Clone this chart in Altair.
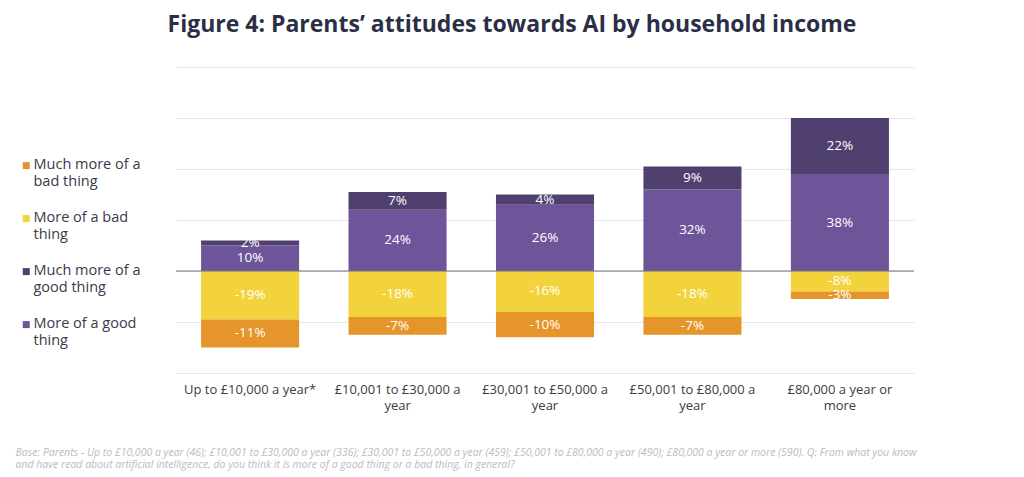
import altair as alt
import pandas as pd

incomes = [
    "Up to £10,000 a year*",
    "£10,001 to £30,000 a year",
    "£30,001 to £50,000 a year",
    "£50,001 to £80,000 a year",
    "£80,000 a year or more",
]
much_good = [2, 7, 4, 9, 22]
good = [10, 24, 26, 32, 38]
bad = [-19, -18, -16, -18, -8]
much_bad = [-11, -7, -10, -7, -3]

series = [
    "More of a good thing",
    "Much more of a good thing",
    "More of a bad thing",
    "Much more of a bad thing",
]
legend_order = [
    "Much more of a bad thing",
    "More of a bad thing",
    "Much more of a good thing",
    "More of a good thing",
]
colors = {
    "Much more of a bad thing": "#E5952A",
    "More of a bad thing": "#F2D33B",
    "Much more of a good thing": "#4F4070",
    "More of a good thing": "#6E5499",
}

rows = []
for i, inc in enumerate(incomes):
    for k, (name, vals) in enumerate(zip(series, [good, much_good, bad, much_bad])):
        rows.append({"income": inc, "series": name, "value": vals[i], "rank": k})
df = pd.DataFrame(rows)

font = "Open Sans"
footnote = [
    "Base: Parents - Up to £10,000 a year (46); £10,001 to £30,000 a year (336); £30,001 to £50,000 a year (459); £50,001 to £80,000 a year (490); £80,000 a year or more (590). Q:  From what you know",
    "and have read about artificial intelligence, do you think it is more of a good thing or a bad thing, in general?",
]

x_label_expr = (
    "datum.label == 'Up to £10,000 a year*' ? datum.label : "
    "datum.label == '£80,000 a year or more' ? ['£80,000 a year or', 'more'] : "
    "[replace(datum.label, ' year', ''), 'year']"
)
legend_label_expr = (
    "datum.label == 'Much more of a bad thing' ? ['Much more of a', 'bad thing'] : "
    "datum.label == 'More of a bad thing' ? ['More of a bad', 'thing'] : "
    "datum.label == 'Much more of a good thing' ? ['Much more of a', 'good thing'] : "
    "['More of a good', 'thing']"
)
# square swatch drawn a little below its anchor so it sits beside the first label line
swatch = "M-1,1.1 L1,1.1 L1,3.1 L-1,3.1 Z"

x_axis = alt.Axis(
    title=footnote,
    titleFont=font,
    titleFontSize=10.5,
    titleFontStyle="italic",
    titleFontWeight="normal",
    titleColor="#bbbbbb",
    titleAnchor="start",
    titleAlign="left",
    titleBaseline="top",
    titleX=-161,
    titleY=74,
    titleLineHeight=12,
    labelAngle=0,
    labelExpr=x_label_expr,
    labelFont=font,
    labelFontSize=13,
    labelColor="#3c3c3c",
    labelPadding=10,
    labelLineHeight=16,
    domain=False,
    ticks=False,
    grid=False,
)
y_axis = alt.Axis(
    values=[-40, -20, 0, 20, 40, 60, 80],
    labels=False,
    ticks=False,
    domain=False,
    title=None,
    grid=True,
    gridColor="#e2e8f0",
    gridWidth=1,
)

x_scale = alt.Scale(paddingInner=0.335, paddingOuter=0.17)
y_scale = alt.Scale(domain=[-40, 80], nice=False)

base = alt.Chart(df).transform_stack(
    stack="value",
    groupby=["income"],
    sort=[alt.SortField("rank", order="ascending")],
    as_=["y0", "y1"],
    offset="zero",
).transform_calculate(mid="(datum.y0 + datum.y1) / 2", lbl="datum.value + '%'")

bars = base.mark_bar().encode(
    x=alt.X("income:N", sort=incomes, scale=x_scale, axis=x_axis),
    y=alt.Y("y0:Q", scale=y_scale, axis=y_axis),
    y2="y1:Q",
    color=alt.Color(
        "series:N",
        scale=alt.Scale(domain=legend_order, range=[colors[s] for s in legend_order]),
        legend=alt.Legend(
            title=None,
            orient="none",
            legendX=-157,
            legendY=84,
            direction="vertical",
            symbolType=swatch,
            symbolSize=49,
            symbolStrokeWidth=0,
            labelExpr=legend_label_expr,
            labelFont=font,
            labelFontSize=14.5,
            labelColor="#3a3a4a",
            labelBaseline="top",
            labelOffset=0,
            rowPadding=15,
            labelLimit=200,
        ),
    ),
)

labels = base.mark_text(
    color="white", font=font, fontSize=13.5, baseline="middle"
).encode(
    x=alt.X("income:N", sort=incomes, scale=x_scale, axis=x_axis),
    y=alt.Y("mid:Q", scale=y_scale, axis=y_axis),
    text="lbl:N",
)

zero = alt.Chart(pd.DataFrame({"v": [0]})).mark_rule(
    color="#6d7080", strokeWidth=1.2
).encode(y=alt.Y("v:Q", scale=y_scale, axis=y_axis))

chart = (
    alt.layer(bars, zero, labels)
    .properties(
        width=738,
        height=306,
        view=alt.ViewBackground(strokeWidth=0, stroke="transparent"),
        title=alt.TitleParams(
            "Figure 4: Parents’ attitudes towards AI by household income",
            font=font,
            fontSize=23,
            fontWeight="bold",
            color="#2a2f45",
            anchor="middle",
            dx=-33,
            offset=30,
        ),
        autosize=alt.AutoSizeParams(type="none"),
        padding={"left": 176, "top": 67, "right": 110, "bottom": 104},
    )
    .configure_view(stroke="transparent", strokeWidth=0)
    .configure(background="white")
)

chart.save("out.html", embed_options={"renderer": "svg", "actions": False})
